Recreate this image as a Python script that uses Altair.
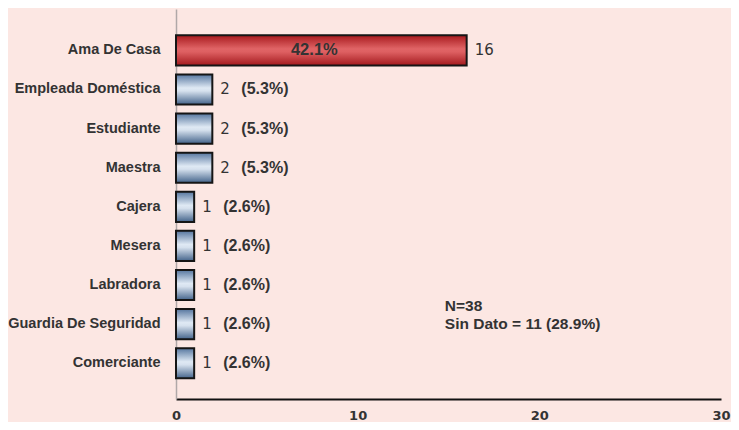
import altair as alt
import pandas as pd

categories = ["Ama De Casa", "Empleada Doméstica", "Estudiante", "Maestra", "Cajera",
              "Mesera", "Labradora", "Guardia De Seguridad", "Comerciante"]
counts = [16, 2, 2, 2, 1, 1, 1, 1, 1]
pct_labels = ["42.1%", "(5.3%)", "(5.3%)", "(5.3%)", "(2.6%)", "(2.6%)", "(2.6%)", "(2.6%)", "(2.6%)"]
highlight = [True, False, False, False, False, False, False, False, False]
x_ticks = [0, 10, 20, 30]
note_line1 = "N=38"
note_line2 = "Sin Dato = 11 (28.9%)"
note_x = 14.8
note_row = "Guardia De Seguridad"

df = pd.DataFrame({"cat": categories, "n": counts, "pct": pct_labels, "hi": highlight})
note_df = pd.DataFrame({"x": [note_x], "cat": [note_row], "l1": [note_line1], "l2": [note_line2]})

x_scale = alt.Scale(domain=[0, 30], nice=False, zero=True)
y_scale = alt.Scale(paddingInner=0.23, paddingOuter=0.6, align=0.56)

X = alt.X("n:Q", scale=x_scale,
          axis=alt.Axis(values=x_ticks, title=None, grid=False, ticks=False,
                        domainColor="#111111", domainWidth=2, labelFlush=False,
                        labelFont="DejaVu Sans", labelFontWeight="bold", labelFontSize=13,
                        labelColor="#333333", labelPadding=10, format="d"))
Y = alt.Y("cat:N", sort=categories, scale=y_scale,
          axis=alt.Axis(title=None, ticks=False, domainColor="#b0a8a8", domainWidth=1.5,
                        labelFont="Liberation Sans", labelFontWeight="bold", labelFontSize=14.5,
                        labelColor="#333333", labelPadding=16))

red_grad = alt.LinearGradient(gradient="linear", x1=0, x2=0, y1=0, y2=1, stops=[
    alt.GradientStop(offset=0, color="#a81a1e"),
    alt.GradientStop(offset=0.45, color="#e06466"),
    alt.GradientStop(offset=0.55, color="#de6062"),
    alt.GradientStop(offset=1, color="#a41a1e"),
])
blue_grad = alt.LinearGradient(gradient="linear", x1=0, x2=0, y1=0, y2=1, stops=[
    alt.GradientStop(offset=0, color="#56769f"),
    alt.GradientStop(offset=0.45, color="#dfe9f4"),
    alt.GradientStop(offset=0.55, color="#d6e1ee"),
    alt.GradientStop(offset=1, color="#44648b"),
])

base = alt.Chart(df)

bars_red = base.transform_filter("datum.hi").mark_bar(
    fill=red_grad, stroke="#151515", strokeWidth=2).encode(x=X, y=Y)
bars_blue = base.transform_filter("!datum.hi").mark_bar(
    fill=blue_grad, stroke="#151515", strokeWidth=2).encode(x=X, y=Y)

count_text = base.mark_text(align="left", baseline="middle", dx=8, font="DejaVu Sans",
                            fontSize=15, color="#333333").encode(
    x=alt.X("n:Q", scale=x_scale), y=alt.Y("cat:N", sort=categories, scale=y_scale),
    text="n:Q")

pct_out = base.transform_filter("!datum.hi").mark_text(
    align="left", baseline="middle", dx=29, font="Liberation Sans", fontWeight="bold",
    fontSize=16, color="#333333").encode(
    x=alt.X("n:Q", scale=x_scale), y=alt.Y("cat:N", sort=categories, scale=y_scale),
    text="pct:N")

pct_in = base.transform_filter("datum.hi").transform_calculate(mid="datum.n / 2").mark_text(
    align="center", baseline="middle", dx=-7, font="Liberation Sans", fontWeight="bold",
    fontSize=16.5, color="#333333").encode(
    x=alt.X("mid:Q", scale=x_scale), y=alt.Y("cat:N", sort=categories, scale=y_scale),
    text="pct:N")

note_base = alt.Chart(note_df)
note1 = note_base.mark_text(align="left", baseline="middle", dy=-18, font="Liberation Sans",
                            fontWeight="bold", fontSize=15.5, color="#333333").encode(
    x=alt.X("x:Q", scale=x_scale), y=alt.Y("cat:N", sort=categories, scale=y_scale), text="l1:N")
note2 = note_base.mark_text(align="left", baseline="middle", dy=0, font="Liberation Sans",
                            fontWeight="bold", fontSize=15.5, color="#333333").encode(
    x=alt.X("x:Q", scale=x_scale), y=alt.Y("cat:N", sort=categories, scale=y_scale), text="l2:N")

chart = alt.layer(bars_red, bars_blue, count_text, pct_out, pct_in, note1, note2).properties(
    width=545, height=390,
    autosize=alt.AutoSizeParams(type="none"),
    padding={"left": 168, "top": 1, "right": 10, "bottom": 23},
    background="#fce7e3",
).configure_view(strokeWidth=0)

chart.save("out.html", embed_options={"renderer": "svg", "actions": False})
